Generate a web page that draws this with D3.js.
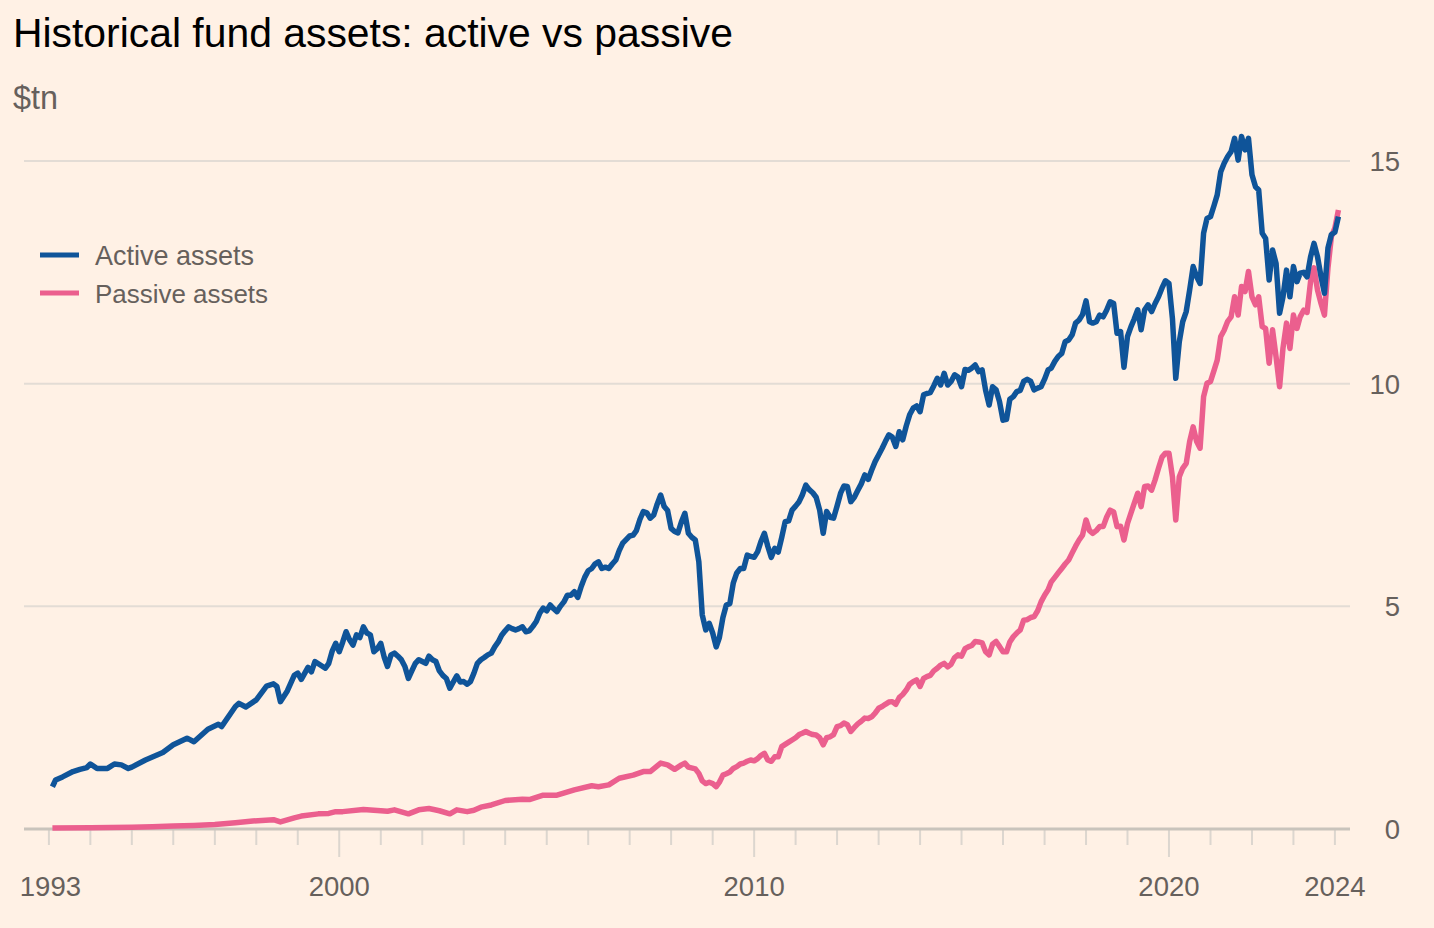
<!DOCTYPE html>
<html><head><meta charset="utf-8">
<script src="https://cdn.jsdelivr.net/npm/d3@7"></script>
<style>
html,body{margin:0;padding:0;background:#fff1e5;}
svg{display:block;font-family:"Liberation Sans",Arial,sans-serif;}
</style>
</head><body>
<svg id="chart" width="1434" height="928"></svg>
<script>
const titleText = "Historical fund assets: active vs passive";
const unitText = "$tn";
const seriesNames = ["Active assets", "Passive assets"];
const xTickLabels = ["1993", "2000", "2010", "2020", "2024"];
const yTickValues = [0, 5, 10, 15];

const activeSeries = [
["1993-02",0.95],["1993-03",1.10],["1993-05",1.17],["1993-08",1.29],["1993-10",1.34],["1993-12",1.38],
["1994-01",1.46],["1994-03",1.36],["1994-06",1.36],["1994-08",1.46],["1994-10",1.44],["1994-12",1.36],
["1995-01",1.39],["1995-05",1.55],["1995-10",1.72],["1996-01",1.89],["1996-05",2.04],["1996-07",1.96],
["1996-11",2.24],["1997-02",2.35],["1997-03",2.30],["1997-07",2.75],["1997-08",2.82],["1997-10",2.74],
["1998-01",2.90],["1998-04",3.21],["1998-06",3.26],["1998-07",3.20],["1998-08",2.86],["1998-10",3.10],
["1998-12",3.45],["1999-01",3.50],["1999-02",3.36],["1999-04",3.63],["1999-05",3.53],["1999-06",3.76],
["1999-09",3.61],["1999-10",3.72],["1999-11",4.00],["1999-12",4.17],
["2000-01",3.98],["2000-02",4.20],["2000-03",4.43],["2000-04",4.25],["2000-05",4.13],["2000-06",4.36],
["2000-07",4.30],["2000-08",4.54],["2000-09",4.40],["2000-10",4.36],["2000-11",3.98],["2000-12",4.05],
["2001-01",4.17],["2001-02",3.85],["2001-03",3.65],["2001-04",3.91],["2001-05",3.95],["2001-06",3.88],
["2001-07",3.80],["2001-08",3.65],["2001-09",3.38],["2001-10",3.55],["2001-11",3.72],["2001-12",3.80],
["2002-01",3.76],["2002-02",3.72],["2002-03",3.88],["2002-04",3.80],["2002-05",3.76],["2002-06",3.55],
["2002-07",3.45],["2002-08",3.38],["2002-09",3.16],["2002-10",3.30],["2002-11",3.44],["2002-12",3.30],
["2003-01",3.31],["2003-02",3.25],["2003-03",3.31],["2003-04",3.50],["2003-05",3.72],["2003-06",3.80],
["2003-07",3.85],["2003-08",3.91],["2003-09",3.95],["2003-10",4.09],["2003-11",4.20],["2003-12",4.35],
["2004-01",4.45],["2004-02",4.54],["2004-03",4.50],["2004-04",4.47],["2004-05",4.50],["2004-06",4.54],
["2004-07",4.43],["2004-08",4.45],["2004-09",4.55],["2004-10",4.66],["2004-11",4.85],["2004-12",4.96],
["2005-01",4.90],["2005-02",5.03],["2005-03",4.95],["2005-04",4.88],["2005-05",5.00],["2005-06",5.10],
["2005-07",5.25],["2005-08",5.25],["2005-09",5.33],["2005-10",5.20],["2005-11",5.45],["2005-12",5.65],
["2006-01",5.80],["2006-02",5.85],["2006-03",5.95],["2006-04",6.00],["2006-05",5.85],["2006-06",5.88],
["2006-07",5.85],["2006-08",5.95],["2006-09",6.04],["2006-10",6.25],["2006-11",6.42],["2006-12",6.50],
["2007-01",6.58],["2007-02",6.60],["2007-03",6.70],["2007-04",6.95],["2007-05",7.13],["2007-06",7.10],
["2007-07",6.98],["2007-08",7.05],["2007-09",7.30],["2007-10",7.50],["2007-11",7.24],["2007-12",7.15],
["2008-01",6.75],["2008-02",6.68],["2008-03",6.65],["2008-04",6.90],["2008-05",7.09],["2008-06",6.64],
["2008-07",6.55],["2008-08",6.49],["2008-09",6.00],["2008-10",4.81],["2008-11",4.47],["2008-12",4.62],
["2009-01",4.40],["2009-02",4.09],["2009-03",4.30],["2009-04",4.75],["2009-05",5.03],["2009-06",5.06],
["2009-07",5.52],["2009-08",5.75],["2009-09",5.85],["2009-10",5.85],["2009-11",6.15],["2009-12",6.12],
["2010-01",6.10],["2010-02",6.23],["2010-03",6.45],["2010-04",6.64],["2010-05",6.35],["2010-06",6.10],
["2010-07",6.30],["2010-08",6.22],["2010-09",6.55],["2010-10",6.90],["2010-11",6.92],["2010-12",7.16],
["2011-01",7.25],["2011-02",7.35],["2011-03",7.50],["2011-04",7.72],["2011-05",7.62],["2011-06",7.55],
["2011-07",7.45],["2011-08",7.16],["2011-09",6.64],["2011-10",7.13],["2011-11",7.00],["2011-12",6.98],
["2012-01",7.25],["2012-02",7.54],["2012-03",7.70],["2012-04",7.69],["2012-05",7.35],["2012-06",7.45],
["2012-07",7.60],["2012-08",7.75],["2012-09",7.95],["2012-10",7.85],["2012-11",8.06],["2012-12",8.25],
["2013-01",8.40],["2013-02",8.55],["2013-03",8.70],["2013-04",8.85],["2013-05",8.80],["2013-06",8.59],
["2013-07",8.92],["2013-08",8.74],["2013-09",9.05],["2013-10",9.30],["2013-11",9.45],["2013-12",9.50],
["2014-01",9.37],["2014-02",9.75],["2014-03",9.78],["2014-04",9.80],["2014-05",9.95],["2014-06",10.12],
["2014-07",9.97],["2014-08",10.23],["2014-09",9.97],["2014-10",10.05],["2014-11",10.20],["2014-12",10.15],
["2015-01",9.93],["2015-02",10.32],["2015-03",10.30],["2015-04",10.35],["2015-05",10.42],["2015-06",10.27],
["2015-07",10.31],["2015-08",9.85],["2015-09",9.52],["2015-10",9.93],["2015-11",9.86],["2015-12",9.60],
["2016-01",9.18],["2016-02",9.20],["2016-03",9.65],["2016-04",9.71],["2016-05",9.82],["2016-06",9.85],
["2016-07",10.05],["2016-08",10.10],["2016-09",10.05],["2016-10",9.86],["2016-11",9.90],["2016-12",9.93],
["2017-01",10.10],["2017-02",10.31],["2017-03",10.35],["2017-04",10.50],["2017-05",10.61],["2017-06",10.68],
["2017-07",10.94],["2017-08",10.98],["2017-09",11.10],["2017-10",11.36],["2017-11",11.43],["2017-12",11.55],
["2018-01",11.86],["2018-02",11.39],["2018-03",11.36],["2018-04",11.39],["2018-05",11.54],["2018-06",11.50],
["2018-07",11.65],["2018-08",11.84],["2018-09",11.80],["2018-10",11.13],["2018-11",11.17],["2018-12",10.37],
["2019-01",11.06],["2019-02",11.28],["2019-03",11.45],["2019-04",11.66],["2019-05",11.21],["2019-06",11.66],
["2019-07",11.77],["2019-08",11.62],["2019-09",11.80],["2019-10",11.95],["2019-11",12.15],["2019-12",12.31],
["2020-01",12.25],["2020-02",11.45],["2020-03",10.12],["2020-04",10.94],["2020-05",11.39],["2020-06",11.62],
["2020-07",12.10],["2020-08",12.63],["2020-09",12.40],["2020-10",12.25],["2020-11",13.38],["2020-12",13.71],
["2021-01",13.75],["2021-02",14.00],["2021-03",14.24],["2021-04",14.76],["2021-05",14.95],["2021-06",15.10],
["2021-07",15.21],["2021-08",15.51],["2021-09",15.02],["2021-10",15.55],["2021-11",15.25],["2021-12",15.51],
["2022-01",14.69],["2022-02",14.42],["2022-03",14.35],["2022-04",13.38],["2022-05",13.26],["2022-06",12.33],
["2022-07",13.00],["2022-08",12.70],["2022-09",11.58],["2022-10",11.95],["2022-11",12.55],["2022-12",11.95],
["2023-01",12.63],["2023-02",12.29],["2023-03",12.48],["2023-04",12.50],["2023-05",12.40],["2023-06",12.85],
["2023-07",13.15],["2023-08",12.85],["2023-09",12.40],["2023-10",12.03],["2023-11",13.05],["2023-12",13.35],
["2024-01",13.40],["2024-02",13.75]
];

const passiveSeries = [
["1993-02",0.02],["1994-01",0.03],["1995-01",0.04],["1995-07",0.05],["1996-01",0.07],["1996-07",0.08],
["1997-01",0.10],["1997-07",0.14],["1997-12",0.18],["1998-06",0.21],["1998-08",0.16],["1998-12",0.25],
["1999-02",0.29],["1999-07",0.34],["1999-10",0.35],["1999-12",0.39],["2000-02",0.39],["2000-08",0.44],
["2001-01",0.41],["2001-03",0.40],["2001-05",0.43],["2001-09",0.34],["2001-12",0.43],["2002-03",0.46],
["2002-06",0.41],["2002-09",0.34],["2002-11",0.43],["2003-02",0.39],["2003-04",0.42],["2003-06",0.49],
["2003-09",0.54],["2004-01",0.64],["2004-06",0.67],["2004-08",0.66],["2004-12",0.76],["2005-04",0.76],
["2005-09",0.88],["2006-02",0.97],["2006-04",0.95],["2006-07",0.99],["2006-10",1.14],["2007-02",1.21],
["2007-05",1.29],["2007-07",1.29],["2007-10",1.48],["2007-12",1.44],["2008-02",1.34],["2008-04",1.44],
["2008-05",1.48],["2008-06",1.39],["2008-08",1.35],["2008-09",1.25],["2008-10",1.08],["2008-11",1.02],
["2008-12",1.05],["2009-01",1.02],["2009-02",0.95],["2009-03",1.05],["2009-04",1.21],["2009-05",1.24],
["2009-06",1.28],["2009-07",1.36],["2009-08",1.40],["2009-09",1.46],["2009-10",1.48],["2009-11",1.52],
["2009-12",1.55],["2010-01",1.53],["2010-02",1.58],["2010-03",1.65],["2010-04",1.70],["2010-05",1.55],
["2010-06",1.52],["2010-07",1.62],["2010-08",1.62],["2010-09",1.85],["2010-10",1.90],["2010-11",1.95],
["2010-12",2.00],["2011-01",2.05],["2011-02",2.12],["2011-03",2.15],["2011-04",2.19],["2011-05",2.15],
["2011-06",2.12],["2011-07",2.11],["2011-08",2.05],["2011-09",1.89],["2011-10",2.05],["2011-11",2.07],
["2011-12",2.12],["2012-01",2.30],["2012-02",2.32],["2012-03",2.38],["2012-04",2.34],["2012-05",2.19],
["2012-06",2.28],["2012-07",2.36],["2012-08",2.42],["2012-09",2.49],["2012-10",2.48],["2012-11",2.52],
["2012-12",2.60],["2013-01",2.71],["2013-02",2.75],["2013-03",2.80],["2013-04",2.85],["2013-05",2.86],
["2013-06",2.80],["2013-07",2.95],["2013-08",3.02],["2013-09",3.12],["2013-10",3.25],["2013-11",3.31],
["2013-12",3.35],["2014-01",3.20],["2014-02",3.38],["2014-03",3.42],["2014-04",3.45],["2014-05",3.55],
["2014-06",3.61],["2014-07",3.68],["2014-08",3.72],["2014-09",3.64],["2014-10",3.70],["2014-11",3.85],
["2014-12",3.91],["2015-01",3.88],["2015-02",4.05],["2015-03",4.09],["2015-04",4.12],["2015-05",4.21],
["2015-06",4.20],["2015-07",4.18],["2015-08",3.98],["2015-09",3.91],["2015-10",4.15],["2015-11",4.21],
["2015-12",4.10],["2016-01",3.98],["2016-02",3.98],["2016-03",4.20],["2016-04",4.32],["2016-05",4.40],
["2016-06",4.47],["2016-07",4.69],["2016-08",4.70],["2016-09",4.75],["2016-10",4.77],["2016-11",4.90],
["2016-12",5.10],["2017-01",5.25],["2017-02",5.37],["2017-03",5.55],["2017-04",5.65],["2017-05",5.75],
["2017-06",5.85],["2017-07",5.95],["2017-08",6.04],["2017-09",6.20],["2017-10",6.35],["2017-11",6.49],
["2017-12",6.60],["2018-01",6.94],["2018-02",6.70],["2018-03",6.64],["2018-04",6.70],["2018-05",6.79],
["2018-06",6.79],["2018-07",7.00],["2018-08",7.16],["2018-09",7.12],["2018-10",6.79],["2018-11",6.80],
["2018-12",6.49],["2019-01",6.86],["2019-02",7.10],["2019-03",7.31],["2019-04",7.54],["2019-05",7.24],
["2019-06",7.69],["2019-07",7.70],["2019-08",7.61],["2019-09",7.84],["2019-10",8.10],["2019-11",8.35],
["2019-12",8.44],["2020-01",8.44],["2020-02",7.90],["2020-03",6.94],["2020-04",7.91],["2020-05",8.10],
["2020-06",8.21],["2020-07",8.70],["2020-08",9.03],["2020-09",8.70],["2020-10",8.55],["2020-11",9.71],
["2020-12",10.01],["2021-01",10.05],["2021-02",10.30],["2021-03",10.53],["2021-04",11.06],["2021-05",11.20],
["2021-06",11.40],["2021-07",11.50],["2021-08",11.95],["2021-09",11.54],["2021-10",12.18],["2021-11",12.07],
["2021-12",12.52],["2022-01",11.95],["2022-02",11.77],["2022-03",11.95],["2022-04",11.28],["2022-05",11.24],
["2022-06",10.46],["2022-07",11.21],["2022-08",10.60],["2022-09",9.93],["2022-10",10.80],["2022-11",11.36],
["2022-12",10.79],["2023-01",11.54],["2023-02",11.24],["2023-03",11.50],["2023-04",11.65],["2023-05",11.60],
["2023-06",12.30],["2023-07",12.60],["2023-08",12.10],["2023-09",11.80],["2023-10",11.54],["2023-11",12.60],
["2023-12",13.30],["2024-01",13.50],["2024-02",13.90]
];

const colors = {active: "#0f5499", passive: "#eb5f8e", text: "#66605c", grid: "#e3dcd5", base: "#c9c4bc", tick: "#dcd6cf"};

const parse = d3.timeParse("%Y-%m");
const toData = s => s.map(([d, v]) => ({date: parse(d), value: v}));
const activeData = toData(activeSeries);
const passiveData = toData(passiveSeries);

const svg = d3.select("#chart");
svg.append("rect").attr("width", 1434).attr("height", 928).attr("fill", "#fff1e5");

const x = d3.scaleTime()
  .domain([new Date(1993, 0, 1), new Date(2024, 0, 1)])
  .range([48.9, 1334.9]);
const y = d3.scaleLinear().domain([0, 15]).range([829, 161]);

const gridLeft = 24, gridRight = 1350;

function fit(sel, target) {
  const w = sel.node().getComputedTextLength();
  const fs = parseFloat(sel.attr("font-size"));
  sel.attr("font-size", (fs * target / w).toFixed(2));
}

// title & unit
fit(svg.append("text").attr("x", 13).attr("y", 47).attr("font-size", 41)
  .attr("fill", "#000").text(titleText), 720);
fit(svg.append("text").attr("x", 13).attr("y", 109).attr("font-size", 29)
  .attr("fill", colors.text).text(unitText), 45);

// gridlines
svg.append("g").selectAll("line").data(yTickValues.filter(v => v > 0)).join("line")
  .attr("x1", gridLeft).attr("x2", gridRight)
  .attr("y1", d => y(d)).attr("y2", d => y(d))
  .attr("stroke", colors.grid).attr("stroke-width", 2);

// y labels
svg.append("g").selectAll("text").data(yTickValues).join("text")
  .attr("x", 1400).attr("y", d => y(d)).attr("dy", "0.36em")
  .attr("text-anchor", "end").attr("font-size", 27.5).attr("fill", colors.text)
  .text(d => d);

// year ticks
const years = d3.timeYear.range(new Date(1993, 0, 1), new Date(2024, 0, 2));
svg.append("g").selectAll("line").data(years).join("line")
  .attr("x1", d => x(d)).attr("x2", d => x(d))
  .attr("y1", 830).attr("y2", d => d.getFullYear() % 10 === 0 ? 857 : 845)
  .attr("stroke", colors.tick).attr("stroke-width", 2);

// baseline
svg.append("line").attr("x1", gridLeft).attr("x2", gridRight)
  .attr("y1", y(0)).attr("y2", y(0))
  .attr("stroke", colors.base).attr("stroke-width", 3);

// x labels
svg.append("g").selectAll("text").data(xTickLabels).join("text")
  .attr("x", d => x(new Date(+d, 0, 1)) + (d === "1993" ? 1.5 : 0))
  .attr("y", 896).attr("text-anchor", "middle")
  .attr("font-size", 27.5).attr("fill", colors.text).text(d => d);

// lines
const line = d3.line().x(d => x(d.date)).y(d => y(d.value));
svg.append("path").datum(passiveData).attr("d", line)
  .attr("fill", "none").attr("stroke", colors.passive).attr("stroke-width", 5.5)
  .attr("stroke-linejoin", "round");
svg.append("path").datum(activeData).attr("d", line)
  .attr("fill", "none").attr("stroke", colors.active).attr("stroke-width", 5.5)
  .attr("stroke-linejoin", "round");

// legend
const legendColors = [colors.active, colors.passive];
const legendTargets = [159, 173];
const lg = svg.append("g");
seriesNames.forEach((name, i) => {
  const ly = 265 + i * 38;
  lg.append("line").attr("x1", 40).attr("x2", 79)
    .attr("y1", ly - 10).attr("y2", ly - 10)
    .attr("stroke", legendColors[i]).attr("stroke-width", 5);
  fit(lg.append("text").attr("x", 95).attr("y", ly).attr("font-size", 26)
    .attr("fill", colors.text).text(name), legendTargets[i]);
});
</script>
</body></html>
